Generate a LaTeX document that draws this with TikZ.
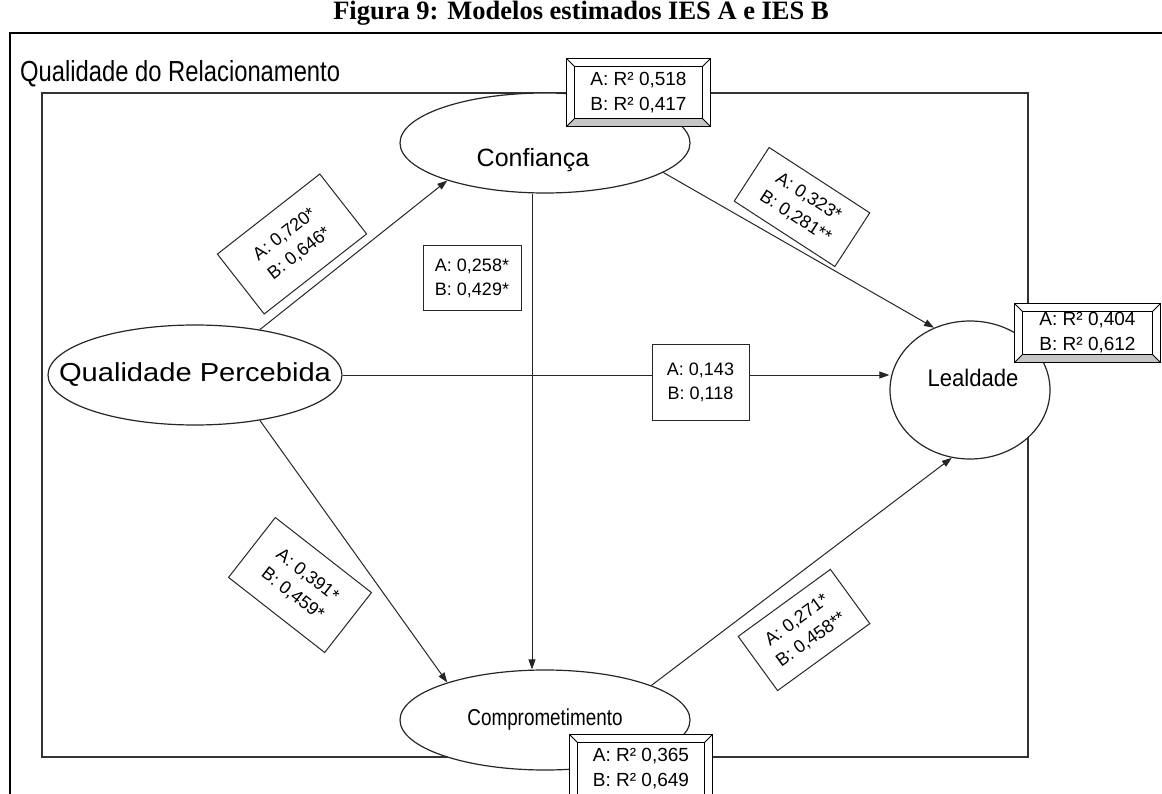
\documentclass[tikz,border=0pt]{standalone}
\usepackage{fontspec}
\usepackage{graphicx}
\setmainfont{Liberation Sans}
\newfontfamily\capfont{Liberation Serif}
\usetikzlibrary{shapes.geometric,arrows.meta,calc}
\tikzset{
  latent/.style={ellipse, draw=black!85, line width=1.2pt, fill=white, inner sep=0pt},
  latentlabel/.style={inner sep=0pt},
  coef/.style={draw=black!85, line width=1pt, fill=white, align=center, inner sep=0pt, font=\fontsize{18}{24}\selectfont},
  rsq/.style={fill=white, align=center, inner sep=0pt, font=\fontsize{19}{25}\selectfont},
  pathline/.style={line width=1pt, draw=black!85, -{Triangle[length=10pt,width=7pt]}},
}
\newcommand\bevelframe[1]{%
  \coordinate (#1-o1) at ($(#1.north west)+(-8,-8)$);
  \coordinate (#1-o2) at ($(#1.north east)+(8,-8)$);
  \coordinate (#1-o3) at ($(#1.south east)+(8,8)$);
  \coordinate (#1-o4) at ($(#1.south west)+(-8,8)$);
  \fill[gray!45] (#1.south west) -- (#1.south east) -- (#1-o3) -- (#1-o4) -- cycle;
  \draw[line width=1pt] (#1-o1) -- (#1-o2) -- (#1-o3) -- (#1-o4) -- cycle;
  \draw[line width=1pt] (#1.north west) rectangle (#1.south east);
  \draw[line width=0.8pt] (#1-o1) -- (#1.north west) (#1-o2) -- (#1.north east)
        (#1-o3) -- (#1.south east) (#1-o4) -- (#1.south west);
}
\begin{document}
\begin{tikzpicture}[x=1pt,y=-1pt]
\useasboundingbox (0,0) rectangle (1162,794);
% title
\node (title) at (581,13) {\capfont\bfseries\fontsize{26.5}{28}\selectfont Figura 9: Modelos estimados IES A e IES B};
% outer frame
\coordinate (ftl) at (10,33);
\coordinate (ftr) at (1162,33);
\coordinate (fbl) at (10,794);
\draw[line width=1.6pt] (ftr) -- (ftl) -- (fbl);
\node[anchor=west, inner sep=0pt, font=\fontsize{29}{32}\selectfont] (frametitle) at (20,74) {\scalebox{0.82}[1]{Qualidade do Relacionamento}};
% inner rectangle
\coordinate (itl) at (42,93);
\coordinate (ibr) at (1028,757);
\draw[line width=1.3pt, black!80] (itl) rectangle (ibr);

% latent variables
\node[latent, minimum width=290, minimum height=100] (conf) at (545,143) {};
\node[latentlabel, font=\fontsize{25}{28}\selectfont] (conflabel) at (533,160) {Confiança};
\node[latent, minimum width=294, minimum height=100] (qp) at (195,375) {};
\node[latentlabel, font=\fontsize{26}{30}\selectfont] (qplabel) at (195,375) {\scalebox{1.12}[1]{Qualidade Percebida}};
\node[latent, minimum width=160, minimum height=138] (leal) at (970,390) {};
\node[latentlabel, font=\fontsize{24}{28}\selectfont] (leallabel) at (973,378) {\scalebox{0.92}[1]{Lealdade}};
\node[latent, minimum width=290, minimum height=100] (comp) at (545,720) {};
\node[latentlabel, font=\fontsize{23}{26}\selectfont] (complabel) at (545,720) {\scalebox{0.82}[1]{Comprometimento}};

% paths
\draw[pathline] (qp.35.5) -- (conf.201);
\draw[pathline] (conf.south -| 532,0) -- (comp.north -| 532,0);
\draw[pathline] (conf.-14.5) -- (leal.120);
\draw[pathline] (qp.east) -- (leal.west |- qp.east);
\draw[pathline] (qp.-35.5) -- (comp.159.3);
\draw[pathline] (comp.18.2) -- (leal.-105);

% coefficient boxes
\node[coef, minimum width=98, minimum height=65] (c1) at (472,278) {A: 0,258*\\B: 0,429*};
\node[coef, minimum width=97, minimum height=76] (c2) at (700.5,382) {A: 0,143\\B: 0,118};
\node[coef, minimum width=130, minimum height=76, rotate=38] (c3) at (292,244) {A: 0,720*\\B: 0,646*};
\node[coef, minimum width=120, minimum height=64, rotate=-33] (c4) at (802,207) {A: 0,323*\\B: 0,281**};
\node[coef, minimum width=122, minimum height=76, rotate=-38] (c5) at (300,585) {A: 0,391*\\B: 0,459*};
\node[coef, minimum width=114, minimum height=67, rotate=36] (c6) at (804,630) {A: 0,271*\\B: 0,458**};

% R squared boxes
\fill[white] (567,59) rectangle (710,126);
\node[rsq, minimum width=127, minimum height=51] (r1) at (638.5,92.5) {A: R² 0,518\\B: R² 0,417};
\bevelframe{r1}
\fill[white] (1015,304) rectangle (1160,362);
\node[rsq, minimum width=129, minimum height=42] (r2) at (1087.5,333) {A: R² 0,404\\B: R² 0,612};
\bevelframe{r2}
\fill[white] (570,735) rectangle (712,800);
\node[rsq, minimum width=126, minimum height=52] (r3) at (641,769) {A: R² 0,365\\B: R² 0,649};
\bevelframe{r3}
\end{tikzpicture}
\end{document}
